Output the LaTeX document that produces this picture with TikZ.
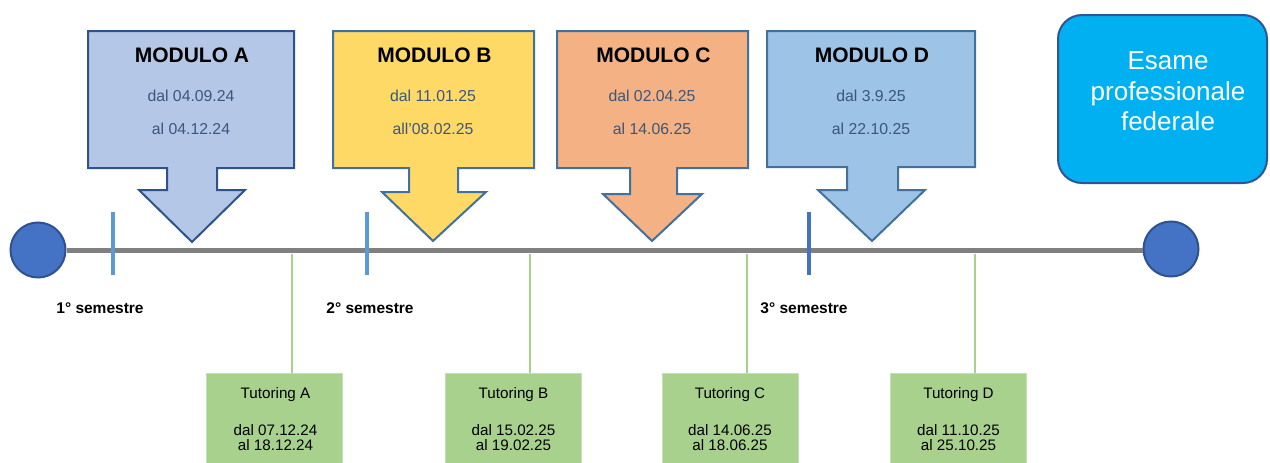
\documentclass[tikz,border=0pt]{standalone}
\usepackage{fontspec}
\setmainfont{Liberation Sans}
\definecolor{modA}{HTML}{B4C7E7}
\definecolor{modB}{HTML}{FFD966}
\definecolor{modC}{HTML}{F4B183}
\definecolor{modD}{HTML}{9DC3E6}
\definecolor{bordA}{HTML}{2F528F}
\definecolor{bordX}{HTML}{41719C}
\definecolor{datec}{RGB}{59,86,125}
\definecolor{tgreen}{HTML}{A9D18E}
\definecolor{tgreenb}{HTML}{C5E0B4}
\definecolor{dotblue}{HTML}{4472C4}
\definecolor{ticklight}{HTML}{5B9BD5}
\definecolor{esamefill}{HTML}{00B0F0}
\definecolor{esamebord}{HTML}{2F5597}
\begin{document}
\begin{tikzpicture}[x=1pt,y=-1pt,
  callout/.style={line width=2pt,line join=miter},
  mtitle/.style={font=\fontsize{21}{25}\selectfont\bfseries,text=black,inner sep=0pt},
  mdate/.style={font=\fontsize{15.8}{19}\selectfont,text=datec,inner sep=0pt},
  tbox/.style={fill=tgreen,draw=tgreenb,line width=0.8pt,minimum width=136pt,minimum height=90pt,inner sep=0pt},
  ttitle/.style={font=\fontsize{15.2}{18}\selectfont,text=black,inner sep=0pt},
  tdate/.style={font=\fontsize{15.2}{15}\selectfont,text=black,align=center,inner sep=0pt},
  tline/.style={draw=tgreen,line width=1.2pt},
  semlabel/.style={font=\fontsize{15.5}{18}\selectfont\bfseries,text=black,inner sep=0pt},
  dot/.style={circle,fill=dotblue,draw=bordA,line width=2pt,minimum size=55pt,inner sep=0pt},
  timeline/.style={draw=black!50,line width=5pt},
  tick/.style={line width=4.5pt}
]
\useasboundingbox (0,0) rectangle (1270,463);

% timeline
\node[dot] (L) at (38,250) {};
\node[dot] (R) at (1171,249) {};
\draw[timeline] (L.east) -- (R.west |- L.east);

% ticks
\draw[tick,draw=ticklight] (113,212) -- (113,275);
\draw[tick,draw=ticklight] (367,212) -- (367,275);
\draw[tick,draw=dotblue] (809,212) -- (809,275);

% callouts
\draw[callout,fill=modA,draw=bordA] (88,31) -- (294,31) -- (294,168) -- (217,168) -- (217,190) -- (245,190) -- (192,242) -- (139,190) -- (167,190) -- (167,168) -- (88,168) -- cycle;
\draw[callout,fill=modB,draw=bordX] (333,31) -- (534,31) -- (534,168) -- (458,168) -- (458,192) -- (486,192) -- (433,241) -- (382,192) -- (409,192) -- (409,168) -- (333,168) -- cycle;
\draw[callout,fill=modC,draw=bordX] (557,31) -- (748,31) -- (748,168) -- (677,168) -- (677,194) -- (702,194) -- (652,241) -- (603,194) -- (630,194) -- (630,168) -- (557,168) -- cycle;
\draw[callout,fill=modD,draw=bordX] (767,31) -- (975,31) -- (975,167) -- (898,167) -- (898,190) -- (925,190) -- (872,241) -- (818,190) -- (847,190) -- (847,167) -- (767,167) -- cycle;

\node[mtitle] (mAt) at (192,55) {MODULO A};
\node[mdate] (mAd) at (191,96) {dal 04.09.24};
\node[mdate] (mAa) at (191,129) {al 04.12.24};

\node[mtitle] (mBt) at (434.5,55) {MODULO B};
\node[mdate] (mBd) at (433,96) {dal 11.01.25};
\node[mdate] (mBa) at (433,129) {all’08.02.25};

\node[mtitle] (mCt) at (653.5,55) {MODULO C};
\node[mdate] (mCd) at (652,96) {dal 02.04.25};
\node[mdate] (mCa) at (652,129) {al 14.06.25};

\node[mtitle] (mDt) at (872,55) {MODULO D};
\node[mdate] (mDd) at (871,96) {dal 3.9.25};
\node[mdate] (mDa) at (871,129) {al 22.10.25};

% esame
\node[fill=esamefill,draw=esamebord,line width=2pt,rounded corners=24pt,minimum width=209pt,minimum height=168pt,inner sep=0pt] (ex) at (1162.5,99) {};
\node[font=\fontsize{26}{30.5}\selectfont,text=white,align=center,inner sep=0pt] (ext) at (1168,91.5) {Esame\\professionale\\federale};

% semester labels
\node[semlabel] (s1) at (100,308) {1° semestre};
\node[semlabel] (s2) at (370,308) {2° semestre};
\node[semlabel] (s3) at (804,308) {3° semestre};

% tutoring boxes
\node[tbox] (tA) at (274,418) {};
\node[tbox] (tB) at (513.5,418) {};
\node[tbox] (tC) at (730,418) {};
\node[tbox] (tD) at (958.5,418) {};

\node[ttitle] (tAt) at (275.5,395) {Tutoring A};
\node[tdate] (tAd) at (275.5,438) {dal 07.12.24\\al 18.12.24};
\node[ttitle] (tBt) at (513.5,395) {Tutoring B};
\node[tdate] (tBd) at (513.5,438) {dal 15.02.25\\al 19.02.25};
\node[ttitle] (tCt) at (730,395) {Tutoring C};
\node[tdate] (tCd) at (730,438) {dal 14.06.25\\al 18.06.25};
\node[ttitle] (tDt) at (958.5,395) {Tutoring D};
\node[tdate] (tDd) at (958.5,438) {dal 11.10.25\\al 25.10.25};

% connectors
\coordinate (cA) at (292,254);
\coordinate (cB) at (530,254);
\coordinate (cC) at (747,254);
\coordinate (cD) at (975,254);
\draw[tline] (cA) -- (cA |- tA.north);
\draw[tline] (cB) -- (cB |- tB.north);
\draw[tline] (cC) -- (cC |- tC.north);
\draw[tline] (cD) -- (cD |- tD.north);
\end{tikzpicture}
\end{document}
